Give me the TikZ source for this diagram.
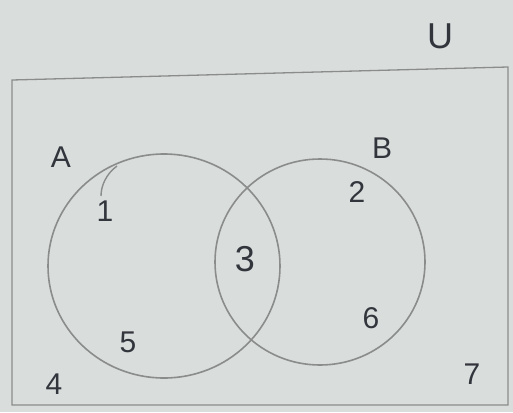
\documentclass[tikz,border=0pt]{standalone}
\usepackage{fontspec}
\setmainfont{Liberation Sans}
\definecolor{paper}{HTML}{D9DDDC}
\definecolor{pencil}{HTML}{8A8C8C}
\definecolor{ink}{HTML}{33353D}
\begin{document}
\begin{tikzpicture}[x=1pt,y=-1pt,
  line/.style={draw=pencil,line width=1.6pt},
  lbl/.style={text=ink,inner sep=0pt,font=\fontsize{30}{34}\selectfont}]
\useasboundingbox (0,0) rectangle (513,412);
\fill[paper] (0,0) rectangle (513,412);
% universe box
\draw[line,line width=1.3pt] (12,80) -- (508,67) -- (508,405) -- (12,405) -- cycle;
% sets
\draw[line] (164,266) ellipse [x radius=116, y radius=112];
\draw[line] (320,262) ellipse [x radius=105, y radius=103];
\draw[line,line width=1.4pt] (101,196) .. controls (101,186) and (106,174) .. (117,166);
% labels
\node[lbl,font=\fontsize{36}{40}\selectfont] (U) at (440,36) {U};
\node[lbl] (A) at (61,157) {A};
\node[lbl] (B) at (382,148) {B};
\node[lbl] (n1) at (105,211) {1};
\node[lbl] (n2) at (357,192) {2};
\node[lbl,font=\fontsize{36}{40}\selectfont] (n3) at (245,259) {3};
\node[lbl] (n5) at (128,342) {5};
\node[lbl] (n6) at (371,318) {6};
\node[lbl] (n4) at (54,384) {4};
\node[lbl] (n7) at (472,374) {7};
\end{tikzpicture}
\end{document}
